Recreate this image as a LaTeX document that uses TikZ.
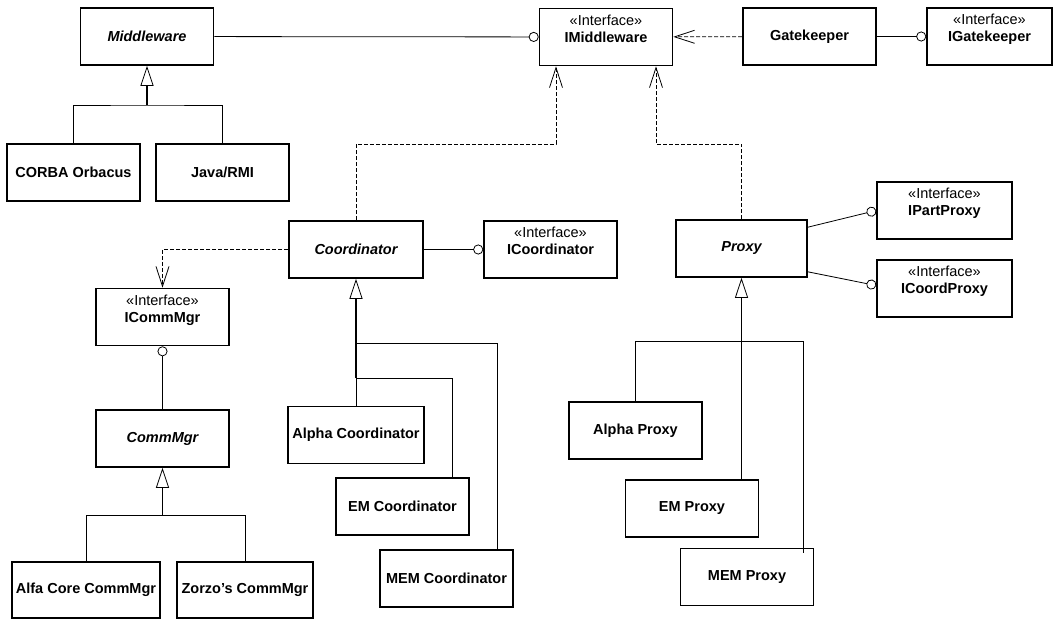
\documentclass[tikz,border=0pt]{standalone}
\usepackage{fontspec}
\setmainfont{Liberation Sans}
\usetikzlibrary{arrows.meta}

\begin{document}
\begin{tikzpicture}[x=1pt,y=-1pt,
    every node/.style={draw,line width=1.6pt,minimum width=133pt,minimum height=57pt,
        inner sep=2pt,align=center,font=\fontsize{14.5}{17}\selectfont\bfseries},
    abst/.style={font=\fontsize{14.5}{17}\selectfont\bfseries\itshape},
    dep/.style={dashed,dash pattern=on 4pt off 2pt,line width=0.8pt,
        -{Straight Barb[length=20pt,width=13pt,line width=0.8pt]}},
    lolli/.style={line width=0.8pt,-{Circle[open,length=10pt,width=10pt]}},
    gen/.style={line width=1.5pt,-{Triangle[open,length=20pt,width=13pt,line width=0.8pt]}},
    branch/.style={line width=0.8pt}]
    \useasboundingbox (0,0) rectangle (1054,619);
    \newcommand{\stereo}{{\mdseries «Interface»}}

    % middleware
    \node[abst] (mw)      at (147,36.5)   {Middleware};
    \node (corba)         at (73.5,172.5) {CORBA Orbacus};
    \node (rmi)           at (222.5,172.5){Java/RMI};
    \node (imw)           at (606,37)     {\stereo\\IMiddleware\\\mbox{}};
    \node (gk)            at (809.5,36.5) {Gatekeeper};
    \node[minimum width=125pt] (igk) at (989.5,36.5) {\stereo\\IGatekeeper\\\mbox{}};

    % coordinator
    \node[abst,minimum width=134pt] (coord) at (356,249.5) {Coordinator};
    \node (icoord)        at (550.5,249.5){\stereo\\ICoordinator\\\mbox{}};
    \node[minimum width=136pt] (alphacoord) at (356,435)   {Alpha Coordinator};
    \node (emcoord)       at (402.5,506.5){EM Coordinator};
    \node (memcoord)      at (446.5,578.5){MEM Coordinator};

    % comm manager
    \node (icomm)         at (162.5,317)  {\stereo\\ICommMgr\\\mbox{}};
    \node[abst] (comm)    at (162.5,438.5){CommMgr};
    \node[minimum width=148pt,minimum height=56pt] (alfa)  at (86,590)  {Alfa Core CommMgr};
    \node[minimum width=136pt,minimum height=56pt] (zorzo) at (245,590) {Zorzo's CommMgr};

    % proxy
    \node[abst,minimum width=131pt] (proxy) at (741.5,248.5) {Proxy};
    \node[minimum width=135pt] (ipart)  at (944.5,210.5) {\stereo\\IPartProxy\\\mbox{}};
    \node[minimum width=135pt] (icproxy) at (944.5,288.5) {\stereo\\ICoordProxy\\\mbox{}};
    \node (alphaproxy)    at (635.5,430.5){Alpha Proxy};
    \node (emproxy)       at (692,508.5)  {EM Proxy};
    \node (memproxy)      at (747,577)    {MEM Proxy};

    % bends and joints
    \coordinate (cbend) at (556,144);
    \coordinate (pbend) at (656,144);
    \coordinate (mwjoin) at (147,105);
    \coordinate (cjoina) at (356,343);
    \coordinate (cjoinb) at (356,378);
    \coordinate (commjoin) at (162.5,515);
    \coordinate (pjoin) at (741.5,341);

    % interfaces
    \draw[lolli] (mw) -- (imw);
    \draw[lolli] (gk) -- (igk);
    \draw[lolli] (coord) -- (icoord);
    \draw[lolli] (comm) -- (icomm);
    \draw[lolli] ([yshift=-8pt]proxy.north east) -- (ipart.west);
    \draw[lolli] ([yshift=6pt]proxy.south east) -- ([yshift=3pt]icproxy.west);

    % dependencies
    \draw[dep] (gk) -- (imw);
    \draw[dep] (coord.north) |- (cbend) -- (cbend |- imw.south);
    \draw[dep] (proxy.north) |- (pbend) -- (pbend |- imw.south);
    \draw[dep] (coord.west) -| (icomm.north);

    % generalizations
    \draw[gen] (mwjoin) -- (mw.south);
    \draw[branch] (corba.north) |- (mwjoin) -| (rmi.north);

    \draw[gen] (cjoinb) -- (coord.south);
    \draw[branch] (cjoinb) -- (alphacoord.north);
    \draw[branch] (cjoinb) -| ([xshift=-17pt]emcoord.north east);
    \draw[branch] (cjoina) -| ([xshift=-16pt]memcoord.north east);

    \draw[gen] (commjoin) -- (comm.south);
    \draw[branch] (alfa.north) |- (commjoin) -| (zorzo.north);

    \draw[gen] (pjoin) -- (proxy.south);
    \draw[branch] (pjoin) -| (alphaproxy.north);
    \draw[branch] (pjoin) -- (pjoin |- emproxy.north);
    \draw[branch] (pjoin) -| ([xshift=-11pt,yshift=-5pt]memproxy.north east);
\end{tikzpicture}
\end{document}
